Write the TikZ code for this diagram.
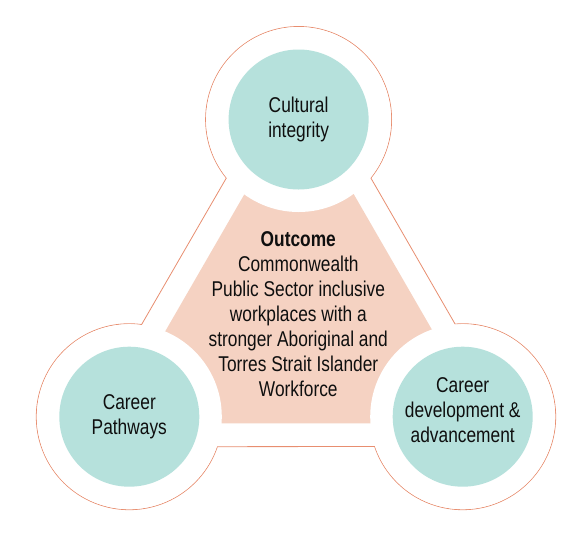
\documentclass[tikz,border=0pt]{standalone}
\usepackage{fontspec}
\setmainfont{Liberation Sans}[FakeStretch=0.81]
\usetikzlibrary{calc}
\definecolor{pillarfill}{RGB}{182,225,220}
\definecolor{outcomefill}{RGB}{245,210,194}
\definecolor{rimline}{RGB}{232,142,112}
\definecolor{inktext}{RGB}{15,15,15}
\begin{document}
\begin{tikzpicture}[x=1pt,y=-1pt,
pillar/.style={circle,fill=pillarfill,minimum size=140pt,inner sep=0pt},
txt/.style={align=center,text=inktext,inner sep=0pt,font=\fontsize{21.4}{25}\selectfont}]
\useasboundingbox (0,0) rectangle (588,536);
\coordinate (T) at (298.6,119.5);
\coordinate (L) at (129.3,416.7);
\coordinate (R) at (462.7,416.7);
% rim round the three pillars
\draw[rimline,fill=white,line width=0.8pt] ($(T)+(141:93)$) arc[start angle=141,end angle=399,radius=93]
  -- ($(R)+(265.3:93)$) arc[start angle=265.3,end angle=521.3,radius=93]
  -- ($(L)+(18.8:93)$) arc[start angle=18.8,end angle=277.6,radius=93] -- cycle;
% outcome triangle, cut round the pillars
\fill[outcomefill] (299.1,99.5) -- (112.1,423.3) -- (486,423.3) -- cycle;
\fill[white] (T) circle[radius=92.5] (L) circle[radius=92.5] (R) circle[radius=92.5];
\node[pillar] (cult) at (T) {};
\node[pillar] (path) at (L) {};
\node[pillar] (dev) at (R) {};
\node[txt] (culttext) at (cult) {Cultural\\integrity};
\node[txt] (pathtext) at (path) {Career\\Pathways};
\node[txt] (devtext) at ([yshift=6.8pt]dev) {Career\\development \&\\advancement};
\node[txt] (outcome) at (298.3,313.7) {\textbf{Outcome}\\Commonwealth\\Public Sector inclusive\\workplaces with a\\stronger Aboriginal and\\Torres Strait Islander\\Workforce};
\end{tikzpicture}
\end{document}
